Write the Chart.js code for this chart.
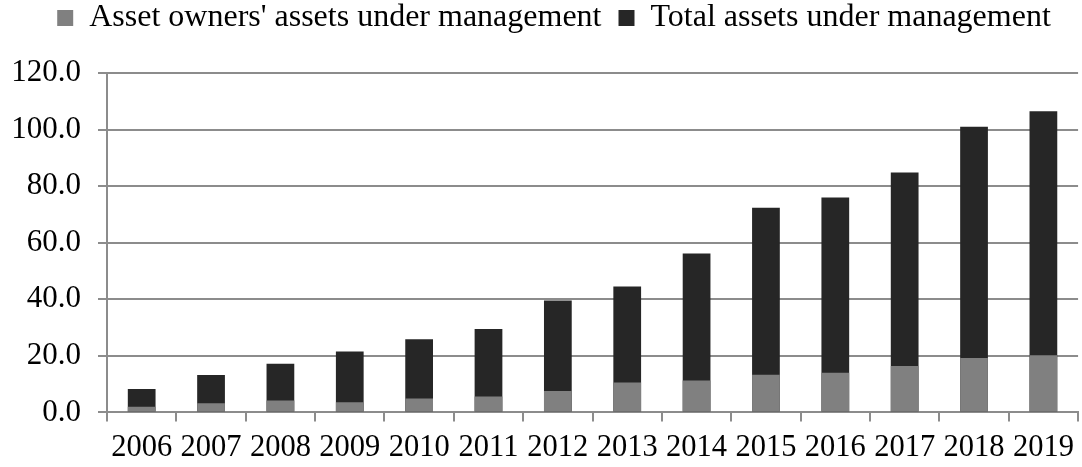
<!DOCTYPE html>
<html>
<head>
<meta charset="utf-8">
<script src="https://cdn.jsdelivr.net/npm/chart.js@4/dist/chart.umd.min.js"></script>
<style>
  html, body { margin: 0; padding: 0; background: #ffffff; }
  #wrap { width: 1082px; height: 467px; }
</style>
</head>
<body>
<div id="wrap"><canvas id="c" width="1082" height="467"></canvas></div>
<script>
const years = ['2006','2007','2008','2009','2010','2011','2012','2013','2014','2015','2016','2017','2018','2019'];
const ownersAUM = [2.0, 3.2, 4.2, 3.6, 4.9, 5.6, 7.6, 10.6, 11.3, 13.3, 14.0, 16.4, 19.2, 20.2];
const totalAUM  = [8.3, 13.2, 17.2, 21.5, 25.9, 29.5, 39.6, 44.5, 56.2, 72.4, 76.0, 84.8, 101.0, 106.5];
const yTicks = [0, 20, 40, 60, 80, 100, 120];

const serif = 'Liberation Serif, "Times New Roman", serif';
const gridColor = '#8c8c8c';

const legendSpacer = {
  id: 'legendSpacer',
  afterInit(chart) {
    const lg = chart.legend;
    if (lg && !lg._patched) {
      const origFit = lg.fit;
      lg.fit = function () { origFit.call(this); this.height += 29; };
      const origDraw = lg.draw;
      lg.draw = function () {
        const ctx = this.ctx;
        ctx.save();
        ctx.translate(10, 0);
        origDraw.call(this);
        ctx.restore();
      };
      lg._patched = true;
    }
  }
};

new Chart(document.getElementById('c'), {
  type: 'bar',
  data: {
    labels: years,
    datasets: [
      { label: "Asset owners' assets under management", data: ownersAUM, backgroundColor: '#808080', barPercentage: 0.4, categoryPercentage: 1.0 },
      { label: 'Total assets under management', data: totalAUM, backgroundColor: '#262626', barPercentage: 0.4, categoryPercentage: 1.0 }
    ]
  },
  plugins: [legendSpacer],
  options: {
    responsive: false,
    animation: false,
    devicePixelRatio: 1,
    layout: { padding: { left: 9, right: 3, top: -15, bottom: 0 } },
    plugins: {
      legend: {
        position: 'top',
        align: 'center',
        labels: {
          font: { family: serif, size: 32 },
          color: '#000000',
          boxWidth: 16,
          boxHeight: 16,
          padding: 17
        }
      },
      tooltip: { enabled: false }
    },
    scales: {
      x: {
        stacked: true,
        grid: { offset: true, drawOnChartArea: false, color: gridColor, lineWidth: 2, tickLength: 9 },
        border: { color: gridColor, width: 2 },
        ticks: { font: { family: serif, size: 30.5 }, color: '#000000', maxRotation: 0, autoSkip: false, padding: 8 },
        afterFit: (axis) => { axis.height = axis.height - 7; }
      },
      y: {
        stacked: false,
        min: 0,
        max: 120,
        afterBuildTicks: (axis) => { axis.ticks = yTicks.map(v => ({ value: v })); },
        grid: { color: gridColor, lineWidth: 2, tickLength: 9 },
        border: { color: gridColor, width: 2 },
        ticks: { font: { family: serif, size: 31 }, color: '#000000', padding: 17, callback: (v) => Number(v).toFixed(1) },
        afterFit: (axis) => { axis.width = 98; }
      }
    }
  }
});
</script>
</body>
</html>
